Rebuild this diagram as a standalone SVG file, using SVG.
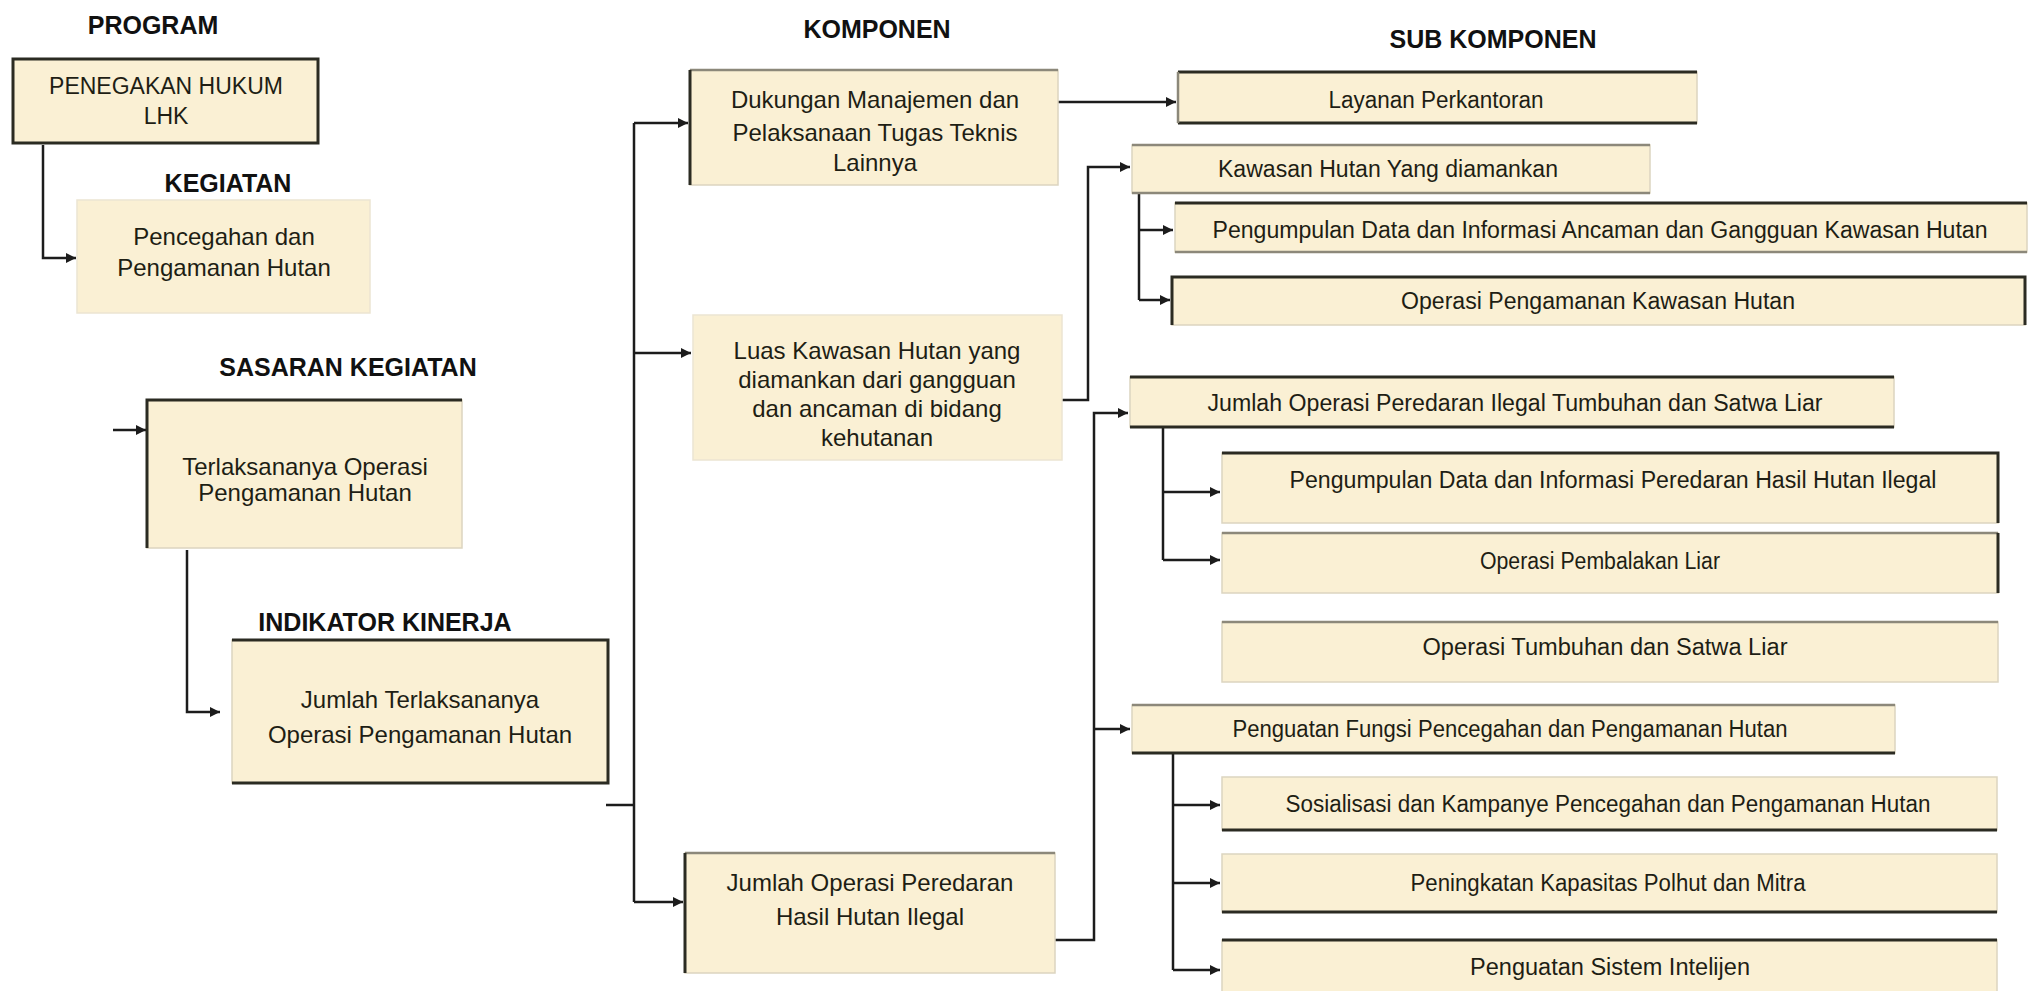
<svg xmlns="http://www.w3.org/2000/svg" width="2036" height="991" viewBox="0 0 2036 991">
<defs>
<marker id="a" viewBox="0 0 10 10" refX="10" refY="5" markerWidth="10" markerHeight="10" markerUnits="userSpaceOnUse" orient="auto"><path d="M0,0L10,5L0,10z" fill="#1c1c1c"/></marker>
</defs>
<style>
.box{fill:#FAF0D4;stroke:#dcd5c0;stroke-width:1.5}
.dk{stroke:#2b2b22;stroke-width:3;fill:none}
.md{stroke:#8c887a;stroke-width:2.5;fill:none}
.t{font-family:"Liberation Sans",Arial,sans-serif;font-size:24px;fill:#1e1e14;text-anchor:middle}
.s{font-size:23px}
.h{font-family:"Liberation Sans",Arial,sans-serif;font-weight:bold;font-size:25px;fill:#111;text-anchor:middle}
.c{stroke:#1c1c1c;stroke-width:2.5;fill:none}
</style>
<rect width="2036" height="991" fill="#ffffff"/>

<g id="labels">
<text class="h" x="153" y="34">PROGRAM</text>
<text class="h" x="228" y="192">KEGIATAN</text>
<text class="h" x="348" y="376">SASARAN KEGIATAN</text>
<text class="h" x="385" y="631">INDIKATOR KINERJA</text>
<text class="h" x="877" y="38">KOMPONEN</text>
<text class="h" x="1493" y="48">SUB KOMPONEN</text>
</g>

<g id="connectors">
<path class="c" d="M43,145 V258 H76" marker-end="url(#a)"/>
<path class="c" d="M113,430 H146" marker-end="url(#a)"/>
<path class="c" d="M187,550 V712 H220" marker-end="url(#a)"/>
<path class="c" d="M606,805 H634 M634,123 V902"/>
<path class="c" d="M634,123 H688" marker-end="url(#a)"/>
<path class="c" d="M634,353 H691" marker-end="url(#a)"/>
<path class="c" d="M634,902 H683" marker-end="url(#a)"/>
<path class="c" d="M1058,102 H1176" marker-end="url(#a)"/>
<path class="c" d="M1062,400 H1088 V167 H1130" marker-end="url(#a)"/>
<path class="c" d="M1139,193 V300"/>
<path class="c" d="M1139,230 H1173" marker-end="url(#a)"/>
<path class="c" d="M1139,300 H1170" marker-end="url(#a)"/>
<path class="c" d="M1055,940 H1094 V413 H1128" marker-end="url(#a)"/>
<path class="c" d="M1094,729 H1130" marker-end="url(#a)"/>
<path class="c" d="M1163,427 V560"/>
<path class="c" d="M1163,492 H1220" marker-end="url(#a)"/>
<path class="c" d="M1163,560 H1220" marker-end="url(#a)"/>
<path class="c" d="M1173,753 V970"/>
<path class="c" d="M1173,805 H1220" marker-end="url(#a)"/>
<path class="c" d="M1173,883 H1220" marker-end="url(#a)"/>
<path class="c" d="M1173,970 H1220" marker-end="url(#a)"/>
</g>

<g id="n-program">
<rect class="box" x="13" y="59" width="305" height="84"/>
<path class="dk" d="M13,59 H318 V143 H13 Z"/>
<text class="t s" x="166" y="94">PENEGAKAN HUKUM</text>
<text class="t s" x="166" y="124">LHK</text>
</g>

<g id="n-kegiatan">
<rect class="box" x="77" y="200" width="293" height="113" style="stroke:#ece5d2"/>
<text class="t" x="224" y="245">Pencegahan dan</text>
<text class="t" x="224" y="276">Pengamanan Hutan</text>
</g>

<g id="n-sasaran">
<rect class="box" x="147" y="400" width="315" height="148"/>
<path class="dk" d="M147,548 V400 H462"/>
<text class="t" x="305" y="475">Terlaksananya Operasi</text>
<text class="t" x="305" y="501">Pengamanan Hutan</text>
</g>

<g id="n-indikator">
<rect class="box" x="232" y="640" width="376" height="143"/>
<path class="dk" d="M232,640 H608 V783 H232"/>
<text class="t" x="420" y="708">Jumlah Terlaksananya</text>
<text class="t" x="420" y="743">Operasi Pengamanan Hutan</text>
</g>

<g id="n-komponen1">
<rect class="box" x="690" y="70" width="368" height="115"/>
<path class="md" d="M690,70 H1058"/>
<path class="dk" d="M690,70 V185"/>
<text class="t" x="875" y="108">Dukungan Manajemen dan</text>
<text class="t" x="875" y="141">Pelaksanaan Tugas Teknis</text>
<text class="t" x="875" y="171">Lainnya</text>
</g>

<g id="n-komponen2">
<rect class="box" x="693" y="315" width="369" height="145" style="stroke:#ece5d2"/>
<text class="t" x="877" y="359">Luas Kawasan Hutan yang</text>
<text class="t" x="877" y="388">diamankan dari gangguan</text>
<text class="t" x="877" y="417">dan ancaman di bidang</text>
<text class="t" x="877" y="446">kehutanan</text>
</g>

<g id="n-komponen3">
<rect class="box" x="685" y="853" width="370" height="120"/>
<path class="md" d="M685,853 H1055"/>
<path class="dk" d="M685,853 V973"/>
<text class="t" x="870" y="891">Jumlah Operasi Peredaran</text>
<text class="t" x="870" y="925">Hasil Hutan Ilegal</text>
</g>

<g id="n-layanan">
<rect class="box" x="1178" y="72" width="519" height="51"/>
<path class="dk" d="M1178,72 H1697 M1178,123 H1697"/>
<path class="md" d="M1178,72 V123"/>
<text class="t s" x="1436" y="108" textLength="215" lengthAdjust="spacingAndGlyphs">Layanan Perkantoran</text>
</g>

<g id="n-kawasan">
<rect class="box" x="1132" y="145" width="518" height="48"/>
<path class="md" d="M1132,145 H1650 M1132,193 H1650"/>
<text class="t s" x="1388" y="177" textLength="340" lengthAdjust="spacingAndGlyphs">Kawasan Hutan Yang diamankan</text>
</g>

<g id="n-pengumpulan1">
<rect class="box" x="1175" y="203" width="852" height="49"/>
<path class="dk" d="M1175,203 H2027"/>
<path class="md" d="M1175,252 H2027"/>
<text class="t s" x="1600" y="238" textLength="775" lengthAdjust="spacingAndGlyphs">Pengumpulan Data dan Informasi Ancaman dan Gangguan Kawasan Hutan</text>
</g>

<g id="n-operasi-pengamanan">
<rect class="box" x="1172" y="277" width="853" height="48"/>
<path class="dk" d="M1172,325 V277 H2025 V325"/>
<text class="t s" x="1598" y="309" textLength="394" lengthAdjust="spacingAndGlyphs">Operasi Pengamanan Kawasan Hutan</text>
</g>

<g id="n-jumlah-tsl">
<rect class="box" x="1130" y="377" width="764" height="50"/>
<path class="dk" d="M1130,377 H1894 M1130,427 H1894"/>
<text class="t s" x="1515" y="411" textLength="615" lengthAdjust="spacingAndGlyphs">Jumlah Operasi Peredaran Ilegal Tumbuhan dan Satwa Liar</text>
</g>

<g id="n-pengumpulan2">
<rect class="box" x="1222" y="453" width="776" height="70"/>
<path class="dk" d="M1222,453 H1998 V523"/>
<text class="t s" x="1613" y="488" textLength="647" lengthAdjust="spacingAndGlyphs">Pengumpulan Data dan Informasi Peredaran Hasil Hutan Ilegal</text>
</g>

<g id="n-pembalakan">
<rect class="box" x="1222" y="533" width="776" height="60"/>
<path class="md" d="M1222,533 H1998"/>
<path class="dk" d="M1998,533 V593"/>
<text class="t s" x="1600" y="569" textLength="240" lengthAdjust="spacingAndGlyphs">Operasi Pembalakan Liar</text>
</g>

<g id="n-operasi-tsl">
<rect class="box" x="1222" y="622" width="776" height="60"/>
<path class="md" d="M1222,622 H1998"/>
<text class="t s" x="1605" y="655" textLength="365" lengthAdjust="spacingAndGlyphs">Operasi Tumbuhan dan Satwa Liar</text>
</g>

<g id="n-penguatan-fungsi">
<rect class="box" x="1132" y="705" width="763" height="48"/>
<path class="md" d="M1132,705 H1895"/>
<path class="dk" d="M1132,753 H1895"/>
<text class="t s" x="1510" y="737" textLength="555" lengthAdjust="spacingAndGlyphs">Penguatan Fungsi Pencegahan dan Pengamanan Hutan</text>
</g>

<g id="n-sosialisasi">
<rect class="box" x="1222" y="777" width="775" height="53"/>
<path class="dk" d="M1222,830 H1997"/>
<text class="t s" x="1608" y="812" textLength="645" lengthAdjust="spacingAndGlyphs">Sosialisasi dan Kampanye Pencegahan dan Pengamanan Hutan</text>
</g>

<g id="n-peningkatan">
<rect class="box" x="1222" y="854" width="775" height="58"/>
<path class="dk" d="M1222,912 H1997"/>
<text class="t s" x="1608" y="891" textLength="395" lengthAdjust="spacingAndGlyphs">Peningkatan Kapasitas Polhut dan Mitra</text>
</g>

<g id="n-intelijen">
<rect class="box" x="1222" y="940" width="775" height="60"/>
<path class="dk" d="M1222,940 H1997"/>
<text class="t s" x="1610" y="975" textLength="280" lengthAdjust="spacingAndGlyphs">Penguatan Sistem Intelijen</text>
</g>
</svg>
